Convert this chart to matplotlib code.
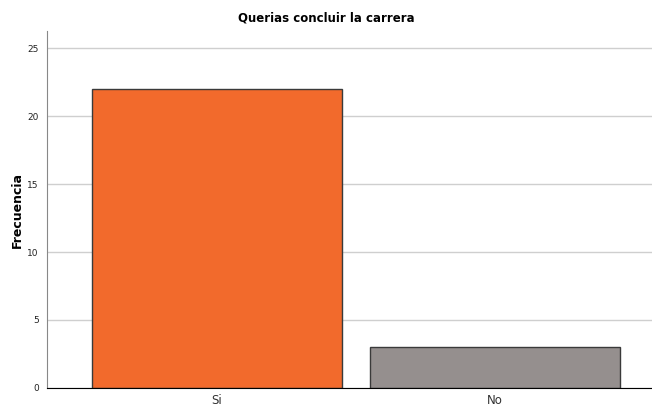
import matplotlib
matplotlib.use("Agg")
import matplotlib.pyplot as plt

# datos
categorias = ["Si", "No"]
frecuencias = [22, 3]
colores = ["#F26A2C", "#958F8E"]
yticks = [0, 5, 10, 15, 20, 25]

fig = plt.figure(figsize=(6.52, 4.07), dpi=100)
ax = fig.add_axes([0.0721, 0.0467, 0.9279, 0.8771])

ax.bar(range(len(categorias)), frecuencias, width=0.9, color=colores,
       edgecolor="#3a3a3a", linewidth=1.0, zorder=3)

ax.set_ylim(0, 26.25)
ax.set_xlim(-0.61, 1.565)
ax.set_yticks(yticks)
ax.set_yticklabels([str(t) for t in yticks], fontsize=6.5, color="#222222")
ax.set_xticks(range(len(categorias)))
ax.set_xticklabels(categorias, fontsize=8.5, color="#333333")
ax.tick_params(axis="y", length=0, pad=6)
ax.tick_params(axis="x", length=0, pad=4)

ax.grid(axis="y", color="#cfcfcf", linewidth=1.0, zorder=0)
ax.spines["top"].set_visible(False)
ax.spines["right"].set_visible(False)
ax.spines["left"].set_color("#888888")
ax.spines["bottom"].set_color("#000000")
ax.spines["bottom"].set_zorder(4)

ax.set_ylabel("Frecuencia", fontsize=9, fontweight="bold")
ax.yaxis.set_label_coords(-0.038, 0.5)
fig.text(0.5, 0.955, "Querias concluir la carrera", ha="center", va="center",
         fontsize=8.5, fontweight="bold")

fig.savefig("out.png", dpi=100)
